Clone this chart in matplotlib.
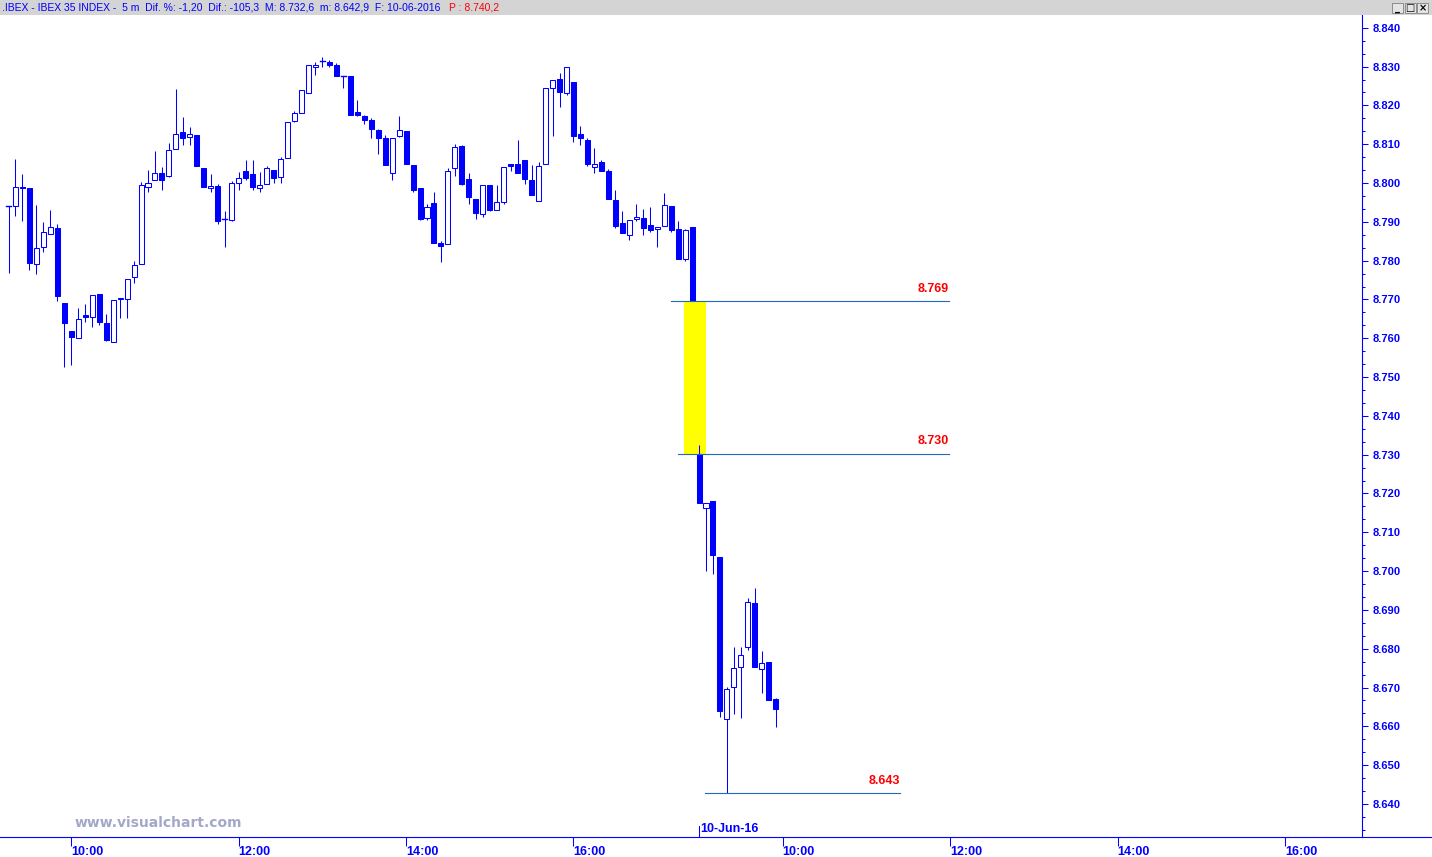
import numpy as np
import matplotlib.pyplot as plt
from matplotlib.patches import Rectangle
from matplotlib.lines import Line2D
from matplotlib.text import Annotation

plt.rcParams["font.family"] = ["Liberation Sans", "DejaVu Sans"]

BLUE = "#0000ff"
RED = "#ff0000"
LEVEL_BLUE = "#2468c0"

# IBEX 35, 5 minute bars, 09-06-2016 from 09:15 to 17:25
day1_open = [8794.0, 8794.0, 8798.9, 8798.7, 8779.1, 8783.6, 8786.8, 8788.4, 8769.1, 8761.9,
             8760.0, 8765.9, 8765.6, 8771.5, 8763.9, 8759.0, 8770.3, 8770.1, 8775.7, 8779.1,
             8798.9, 8800.7, 8802.5, 8801.7, 8808.7, 8813.1, 8811.8, 8812.3, 8803.9, 8798.6,
             8799.3, 8790.7, 8790.4, 8800.0, 8803.1, 8802.3, 8798.7, 8799.7, 8803.3, 8801.5,
             8806.4, 8815.9, 8818.0, 8823.3, 8829.9, 8831.4, 8831.2, 8830.5, 8827.5, 8827.6,
             8818.2, 8817.3, 8816.3, 8813.7, 8811.7, 8802.7, 8812.0, 8813.5, 8804.7, 8798.8,
             8791.0, 8794.8, 8784.6, 8784.3, 8803.8, 8809.6, 8801.1, 8795.8, 8792.0, 8799.5,
             8793.0, 8795.1, 8804.9, 8804.9, 8806.0, 8800.7, 8795.3, 8804.9, 8824.4, 8826.8,
             8823.2, 8826.0, 8812.7, 8811.1, 8804.1, 8805.4, 8803.1, 8795.6, 8789.7, 8786.5,
             8790.7, 8790.9, 8789.2, 8788.1, 8788.9, 8794.1, 8788.1, 8780.3, 8788.7]
day1_high = [8794.0, 8806.2, 8802.4, 8798.7, 8794.4, 8790.0, 8793.1, 8789.5, 8769.1, 8761.9,
             8767.8, 8768.9, 8771.1, 8771.5, 8766.3, 8769.8, 8770.3, 8775.2, 8779.9, 8800.2,
             8803.4, 8808.3, 8804.1, 8810.3, 8824.3, 8817.1, 8814.5, 8812.3, 8803.9, 8802.4,
             8799.7, 8792.8, 8800.4, 8802.9, 8806.0, 8806.0, 8802.9, 8804.3, 8803.3, 8806.6,
             8815.7, 8818.6, 8823.9, 8830.4, 8831.1, 8832.6, 8831.8, 8830.9, 8827.7, 8827.6,
             8821.5, 8817.5, 8816.7, 8814.0, 8812.4, 8811.6, 8817.4, 8813.5, 8804.7, 8798.8,
             8794.7, 8797.7, 8785.1, 8803.8, 8810.1, 8809.9, 8802.5, 8795.8, 8799.5, 8799.5,
             8799.5, 8804.1, 8804.9, 8811.1, 8806.0, 8804.7, 8805.4, 8824.4, 8826.5, 8828.3,
             8829.9, 8826.0, 8814.7, 8811.5, 8809.0, 8806.0, 8803.6, 8798.2, 8792.8, 8790.4,
             8794.6, 8793.4, 8793.9, 8788.6, 8797.4, 8794.1, 8790.2, 8788.2, 8788.7]
day1_low = [8776.8, 8791.4, 8790.1, 8777.5, 8776.6, 8782.1, 8786.8, 8769.5, 8752.7, 8753.1,
            8760.0, 8764.1, 8762.8, 8763.3, 8759.2, 8759.0, 8765.2, 8765.3, 8774.2, 8779.1,
            8797.6, 8800.7, 8798.3, 8801.5, 8808.7, 8809.7, 8809.7, 8804.3, 8799.0, 8797.8,
            8789.5, 8783.5, 8790.1, 8798.1, 8800.7, 8798.1, 8797.8, 8799.7, 8800.1, 8799.9,
            8806.4, 8815.6, 8818.0, 8823.1, 8827.9, 8829.8, 8829.8, 8827.5, 8824.6, 8817.6,
            8817.2, 8815.3, 8811.6, 8807.5, 8804.7, 8800.8, 8811.8, 8805.0, 8797.6, 8790.5,
            8790.5, 8784.5, 8779.7, 8784.3, 8801.7, 8799.6, 8794.6, 8790.7, 8791.2, 8792.7,
            8793.0, 8794.6, 8803.2, 8802.6, 8799.7, 8796.8, 8795.3, 8804.9, 8812.0, 8819.7,
            8822.6, 8810.5, 8809.9, 8804.5, 8802.6, 8803.0, 8796.0, 8788.3, 8787.0, 8785.2,
            8790.3, 8786.5, 8787.5, 8783.4, 8788.9, 8787.3, 8780.3, 8779.9, 8769.5]
day1_close = [8794.0, 8798.9, 8798.6, 8779.5, 8783.2, 8787.3, 8788.6, 8770.8, 8763.9, 8760.2,
              8764.9, 8765.5, 8771.1, 8764.3, 8759.6, 8769.8, 8770.0, 8775.2, 8778.8, 8799.5,
              8799.9, 8802.5, 8800.7, 8808.5, 8812.6, 8811.6, 8812.6, 8804.3, 8799.0, 8799.3,
              8790.1, 8790.7, 8800.0, 8801.3, 8801.4, 8799.1, 8799.5, 8803.8, 8801.4, 8806.2,
              8815.7, 8818.0, 8823.9, 8830.4, 8830.4, 8831.4, 8830.3, 8827.7, 8827.5, 8817.6,
              8817.6, 8816.3, 8814.0, 8811.7, 8804.7, 8811.6, 8813.7, 8805.0, 8798.3, 8790.7,
              8793.8, 8784.5, 8783.7, 8803.1, 8809.3, 8799.8, 8796.5, 8792.2, 8799.5, 8793.1,
              8795.1, 8804.1, 8804.5, 8802.7, 8801.0, 8796.8, 8804.4, 8824.4, 8826.5, 8823.4,
              8829.9, 8812.0, 8811.5, 8805.0, 8804.9, 8803.2, 8796.0, 8788.8, 8787.0, 8790.4,
              8791.2, 8788.4, 8787.9, 8788.6, 8794.3, 8787.8, 8780.3, 8787.9, 8769.5]

# 10-06-2016 from 09:00 to 09:55
day2_open = [8730.3, 8716.2, 8718.1, 8703.6, 8661.8, 8670.1, 8675.4, 8680.5, 8691.8, 8674.7, 8676.6, 8667.1]
day2_high = [8732.6, 8717.5, 8718.1, 8703.6, 8670.2, 8680.4, 8680.4, 8693.0, 8695.7, 8679.4, 8676.6, 8667.3]
day2_low = [8717.6, 8700.1, 8699.3, 8662.5, 8642.9, 8663.2, 8662.2, 8679.7, 8675.4, 8668.7, 8666.8, 8659.7]
day2_close = [8717.6, 8717.5, 8704.2, 8664.0, 8669.6, 8674.9, 8678.3, 8692.0, 8675.4, 8676.2, 8666.8, 8664.4]

gap_levels = [8769.5, 8730.3, 8642.9]
gap_labels = ["8.769", "8.730", "8.643"]

tick_hours = [10, 12, 14, 16]
tick_labels = ["10:00", "12:00", "14:00", "16:00"]
day2_label = "10-Jun-16"
price_ticks = np.arange(8640, 8841, 10)

title = (".IBEX - IBEX 35 INDEX -  5 m  Dif. %: -1,20  Dif.: -105,3  "
         "M: 8.732,6  m: 8.642,9  F: 10-06-2016")
title_price = "P : 8.740,2"

bars_per_session = 102   # 09:00 .. 17:25
day1_start = 3           # first bar shown: 09:15

x1 = day1_start + np.arange(len(day1_open))
x2 = bars_per_session + np.arange(len(day2_open))
xs = np.concatenate([x1, x2])
opens = np.array(day1_open + day2_open)
highs = np.array(day1_high + day2_high)
lows = np.array(day1_low + day2_low)
closes = np.array(day1_close + day2_close)

W, H = 1432, 857
fig = plt.figure(figsize=(W / 100, H / 100), dpi=100)
fig.patch.set_facecolor("white")

ax_left, ax_right, ax_top, ax_bottom = 0, 1362, 15, 837.3
ax = fig.add_axes([ax_left / W, 1 - ax_bottom / H, (ax_right - ax_left) / W, (ax_bottom - ax_top) / H])
XLIM = (1.78, 197.05)
YLIM = (8631.4, 8843.3)

# gap box and level lines
ax.add_patch(Rectangle((99.8, gap_levels[1]), 3.16, gap_levels[0] - gap_levels[1],
                       facecolor="#ffff00", edgecolor="none", zorder=1))
line_spans = [(98.0, 137.8), (99.0, 137.8), (102.8, 130.8)]
for lvl, lab, (xa, xb) in zip(gap_levels, gap_labels, line_spans):
    ax.plot([xa, xb], [lvl, lvl], color=LEVEL_BLUE, lw=0.8, zorder=4)
    ax.annotate(lab, (xb, lvl), xytext=(0, 6.5), textcoords="offset points",
                ha="right", va="baseline", color=RED, fontsize=9, fontweight="bold")

# candles
bw = 0.72
ax.vlines(xs, lows, highs, color=BLUE, lw=0.75, zorder=2)
for x, o, h, l, c in zip(xs, opens, highs, lows, closes):
    if abs(c - o) < 0.05:
        ax.plot([x - bw / 2, x + bw / 2], [o, o], color=BLUE, lw=1.0, zorder=3)
    elif c > o:
        ax.add_patch(Rectangle((x - bw / 2, o), bw, c - o, facecolor="white",
                               edgecolor=BLUE, lw=0.75, zorder=3))
    else:
        ax.add_patch(Rectangle((x - bw / 2, c), bw, o - c, facecolor=BLUE,
                               edgecolor=BLUE, lw=0.75, zorder=3))

# axes styling
for s in ["left", "top", "bottom"]:
    ax.spines[s].set_visible(False)
ax.spines["right"].set_color(BLUE)
ax.spines["right"].set_linewidth(0.8)

ax.yaxis.tick_right()
ax.set_yticks(price_ticks, [f"{v:,.0f}".replace(",", ".") for v in price_ticks],
              fontweight="bold")
minor = np.arange(8630, 8844, 10 / 3)
ax.set_yticks(minor[(minor > YLIM[0]) & (minor < YLIM[1])], minor=True)
ax.tick_params(axis="y", which="major", length=4.3, width=0.75, colors=BLUE,
               pad=3, labelsize=8)
ax.tick_params(axis="y", which="minor", length=2.4, width=0.75, colors=BLUE)

tick_pos = [(h - 9) * 12 for h in tick_hours]
tick_pos = tick_pos + [p + bars_per_session for p in tick_pos]
ax.set_xticks(tick_pos, tick_labels * 2, ha="left", fontweight="bold")
ax.tick_params(axis="x", length=6.5, width=0.75, colors=BLUE, pad=0, labelsize=9)

# session marker
ax.axvline(bars_per_session, ymin=0, ymax=11 / (ax_bottom - ax_top), color=BLUE, lw=0.75)
ax.annotate(day2_label, (bars_per_session, 0), xycoords=("data", "axes fraction"),
            xytext=(1.2, 1.5), textcoords="offset points", ha="left", va="bottom",
            color=BLUE, fontsize=9, fontweight="bold")

ax.set_xlim(*XLIM)
ax.set_ylim(*YLIM)

# bottom axis line across the whole window
fig.add_artist(Line2D([0, 1], [1 - ax_bottom / H] * 2, transform=fig.transFigure,
                      color=BLUE, lw=0.8))

fig.text(75 / W, 1 - 827 / H, "www.visualchart.com", color="#a4a8c8", fontsize=10,
         fontweight="bold", family="DejaVu Sans", va="baseline")

# title bar
fig.add_artist(Rectangle((0, 1 - 15 / H), 1, 15 / H, transform=fig.transFigure,
                         facecolor="#d4d4d4", edgecolor="none", zorder=1))
t = fig.text(2 / W, 1 - 8 / H, title, color=BLUE, fontsize=7.5, va="center", zorder=3)
fig.add_artist(Annotation(title_price, xy=(1, 0.5), xycoords=t, xytext=(6, 0),
                          textcoords="offset points", color=RED, fontsize=7.5,
                          va="center", annotation_clip=False, zorder=4))
for i, glyph in enumerate(["_", "□", "×"]):
    bx = 1392 + i * 12.5
    fig.add_artist(Rectangle((bx / W, 1 - 13 / H), 11 / W, 10 / H, transform=fig.transFigure,
                             facecolor="#e4e4e4", edgecolor="#808080", lw=0.6, zorder=2))
    fig.text((bx + 5.5) / W, 1 - 8 / H, glyph, color="black", fontsize=7,
             ha="center", va="center", family="DejaVu Sans", fontweight="bold", zorder=3)

fig.savefig("out.png", dpi=100)
